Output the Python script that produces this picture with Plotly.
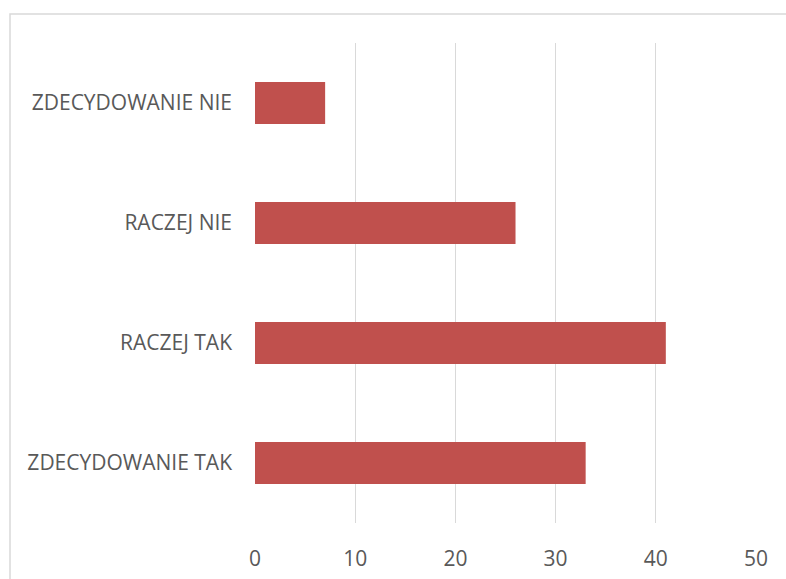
import plotly.graph_objects as go

# Survey answers and counts (listed bottom to top)
categories = ["ZDECYDOWANIE TAK", "RACZEJ TAK", "RACZEJ NIE", "ZDECYDOWANIE NIE"]
values = [33, 41, 26, 7]
x_ticks = [0, 10, 20, 30, 40, 50]

W, H = 786, 579
L, R, T, B = 255, 30, 43, 56
pw, ph = W - L - R, H - T - B

fig = go.Figure(
    go.Bar(
        x=values,
        y=categories,
        orientation="h",
        width=0.35,
        marker=dict(color="#C0504D", line=dict(width=0)),
        hoverinfo="x+y",
    )
)

# outer chart frame (extends past the bottom/right edges)
fx0 = (10 - L) / pw
fy1 = 1 + (T - 14) / ph
fig.add_shape(type="rect", xref="paper", yref="paper",
              x0=fx0, x1=1.5, y0=-0.5, y1=fy1,
              line=dict(color="#D9D9D9", width=1.5), layer="below")

fig.update_layout(
    width=W, height=H,
    margin=dict(l=L, r=R, t=T, b=B, pad=0),
    paper_bgcolor="white", plot_bgcolor="white",
    showlegend=False,
    font=dict(family="Open Sans", size=21, color="#595959"),
    bargap=0.65,
)
fig.update_xaxes(
    range=[0, 50], tickvals=x_ticks, showgrid=True, gridcolor="#D9D9D9",
    gridwidth=1.3, zeroline=False, showline=False, ticks="",
    ticklabelstandoff=21, automargin=False, fixedrange=True,
)
fig.update_yaxes(
    categoryorder="array", categoryarray=categories,
    showgrid=False, zeroline=False, showline=False, ticks="",
    ticklabelstandoff=22, automargin=False, fixedrange=True,
)

fig.write_html("out.html")
